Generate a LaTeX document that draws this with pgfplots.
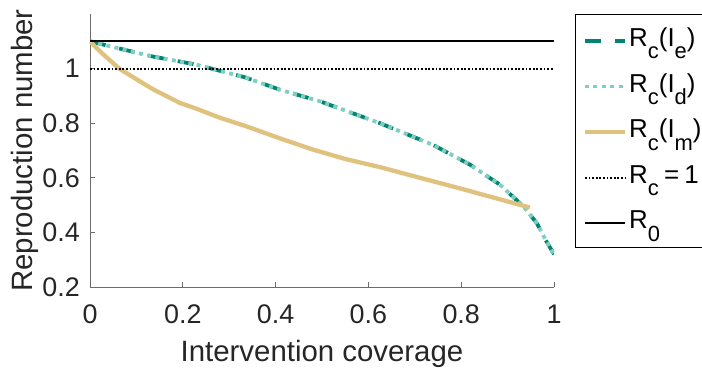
\documentclass[border=0pt]{standalone}
\usepackage{fontspec}
\setmainfont{Liberation Sans}
\usepackage{pgfplots}
\pgfplotsset{compat=1.18}
\definecolor{dkgreen}{RGB}{1,133,113}
\definecolor{ltteal}{RGB}{128,205,193}
\definecolor{tanc}{RGB}{223,194,125}
\definecolor{axgray}{RGB}{38,38,38}
\newcommand{\sbs}[1]{\raisebox{-12.5bp}{\fontsize{22}{22}\selectfont #1}}
\begin{document}
\begin{tikzpicture}
\begin{axis}[
  scale only axis, width=464bp, height=273bp,
  at={(0,0)}, anchor=south west,
  xmin=0, xmax=1, ymin=0.2, ymax=1.2,
  axis x line*=bottom, axis y line*=left,
  axis line style={-, draw=gray!85!black, line width=0.8bp},
  xtick={0,0.2,0.4,0.6,0.8,1}, ytick={0.2,0.4,0.6,0.8,1},
  xticklabels={0,0.2,0.4,0.6,0.8,1}, yticklabels={0.2,0.4,0.6,0.8,1},
  tick align=inside, major tick length=5bp,
  tick style={draw=gray!85!black, line width=0.8bp},
  ticklabel style={font=\fontsize{27}{31}\selectfont, text=axgray},
  xticklabel style={anchor=base, yshift=-36bp},
  yticklabel style={anchor=east, inner xsep=0pt, xshift=-10bp},
  /pgf/number format/assume math mode=true,
  xlabel={Intervention coverage}, ylabel={Reproduction number},
  label style={font=\fontsize{29.5}{33}\selectfont, text=axgray},
  xlabel style={at={([yshift=-74bp]axis description cs:0.5,0)}, anchor=base},
  ylabel style={at={([xshift=-57bp]axis description cs:0,0.5)}, anchor=base},
  legend style={at={(axis description cs:1.0453,1)}, anchor=north west,
    font=\fontsize{26}{30}\selectfont, draw=black, line width=0.8bp,
    row sep=2.6bp, column sep=2bp, inner xsep=7.5bp, inner ysep=4bp,
    nodes={inner sep=0bp, text height=28bp, text depth=15bp}},
  legend cell align=left,
  legend image code/.code={\draw[#1] (0bp,-1bp) -- (40bp,-1bp);},
]
\addplot[dkgreen, line width=3.8bp, dash pattern=on 16bp off 14bp] coordinates {
(0,1.1) (0.05,1.079) (0.133,1.045) (0.228,1.015) (0.334,0.968) (0.409,0.923)
(0.496,0.88) (0.625,0.80) (0.74,0.72) (0.819,0.648) (0.884,0.574)
(0.934,0.495) (0.963,0.434) (0.984,0.366) (1.0,0.32)};
\addlegendentry{R\sbs{c}(I\sbs{e})}
\addplot[ltteal, line width=3.8bp, dash pattern=on 4bp off 4.4bp] coordinates {
(0,1.1) (0.05,1.079) (0.133,1.045) (0.228,1.015) (0.334,0.968) (0.409,0.923)
(0.496,0.88) (0.625,0.80) (0.74,0.72) (0.819,0.648) (0.884,0.574)
(0.934,0.495) (0.963,0.434) (0.984,0.366) (1.0,0.32)};
\addlegendentry{R\sbs{c}(I\sbs{d})}
\addplot[tanc, line width=4.3bp] coordinates {
(0,1.1) (0.015,1.074) (0.03,1.05) (0.063,1.0) (0.1,0.961) (0.135,0.925)
(0.194,0.874) (0.228,0.854) (0.28,0.82) (0.338,0.788) (0.41,0.744)
(0.481,0.703) (0.55,0.669) (0.625,0.639) (0.7,0.605) (0.8,0.56) (0.948,0.491)};
\addlegendentry{R\sbs{c}(I\sbs{m})}
\addplot[black, line width=2bp, dash pattern=on 1.8bp off 1.8bp] coordinates {(0,1) (1,1)};
\addlegendentry{R\sbs{c}\hspace{0.2em}=\hspace{0.2em}1}
\addplot[black, line width=2.2bp] coordinates {(0,1.1) (1,1.1)};
\addlegendentry{R\sbs{0}}
\end{axis}
\pgfresetboundingbox
\path[use as bounding box] (-90bp,-85bp) rectangle (612bp,287bp);
\end{tikzpicture}
\end{document}
